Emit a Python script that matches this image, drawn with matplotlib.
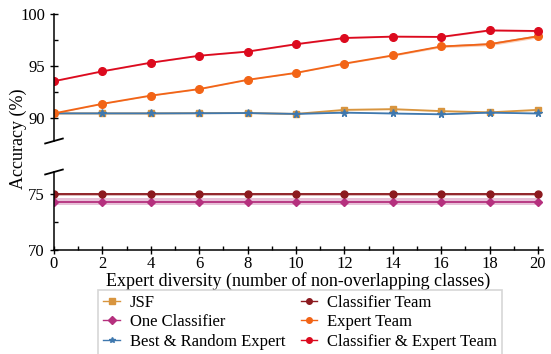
import matplotlib.pyplot as plt
import numpy as np
from matplotlib.ticker import MultipleLocator

plt.rcParams['font.family'] = ['Liberation Serif', 'DejaVu Serif']
plt.rcParams['mathtext.fontset'] = 'stix'

# data
diversity = [0, 2, 4, 6, 8, 10, 12, 14, 16, 18, 20]
jsf = [90.45, 90.45, 90.45, 90.47, 90.48, 90.40, 90.79, 90.86, 90.67, 90.55, 90.79]
one_clf = [74.35] * 11
best_random = [90.45, 90.45, 90.45, 90.46, 90.48, 90.40, 90.52, 90.44, 90.36, 90.52, 90.44]
clf_team = [75.0] * 11
expert_team = [90.45, 91.37, 92.16, 92.79, 93.68, 94.35, 95.24, 96.03, 96.89, 97.11, 97.87]
clf_expert = [93.55, 94.50, 95.33, 96.00, 96.40, 97.11, 97.71, 97.84, 97.81, 98.44, 98.38]

# spread bands
jsf_sd = [0.05, 0.05, 0.05, 0.05, 0.05, 0.05, 0.08, 0.08, 0.06, 0.06, 0.08]
one_clf_sd = [0.3] * 11
best_random_sd = [0.04] * 11
clf_team_sd = [0.15] * 11
expert_team_sd = [0.05, 0.05, 0.05, 0.05, 0.05, 0.05, 0.06, 0.08, 0.12, 0.15, 0.15]
clf_expert_sd = [0.05, 0.05, 0.05, 0.05, 0.05, 0.06, 0.06, 0.06, 0.06, 0.08, 0.08]

series = [
    ('JSF', jsf, jsf_sd, '#d8953f', 's', 4.5),
    ('One Classifier', one_clf, one_clf_sd, '#b5307e', 'D', 4.5),
    ('Best & Random Expert', best_random, best_random_sd, '#3f78ae', '*', 5.5),
    ('Classifier Team', clf_team, clf_team_sd, '#8c1a1f', 'o', 5),
    ('Expert Team', expert_team, expert_team_sd, '#f26416', 'o', 5.5),
    ('Classifier & Expert Team', clf_expert, clf_expert_sd, '#dc0a1e', 'o', 5.5),
]

fig = plt.figure(figsize=(5.51, 3.54), dpi=100)
ax_top = fig.add_axes([0.098, 0.602, 0.887, 0.358])
ax_bot = fig.add_axes([0.098, 0.294, 0.887, 0.220])

handles = []
for ax in (ax_top, ax_bot):
    for name, vals, sd, col, mk, ms in series:
        v = np.array(vals)
        s = np.array(sd)
        ax.fill_between(diversity, v - s, v + s, color=col, alpha=0.3, lw=0)
        ln, = ax.plot(diversity, vals, color=col, marker=mk, ms=ms, lw=1.3, label=name)
        if ax is ax_top:
            handles.append(ln)

# greyish band above expert team near the end
ax_top.fill_between(diversity, np.array(expert_team), np.array(expert_team) + np.array(expert_team_sd),
                    color='#7a5a7a', alpha=0.35, lw=0)

ax_top.set_ylim(87.8, 100)
ax_bot.set_ylim(70, 77)
for ax in (ax_top, ax_bot):
    ax.set_xlim(0, 20.2)
    ax.spines['top'].set_visible(False)
    ax.spines['right'].set_visible(False)
    ax.yaxis.set_major_locator(MultipleLocator(5))
    ax.yaxis.set_minor_locator(MultipleLocator(2.5))
    ax.xaxis.set_major_locator(MultipleLocator(2))
    ax.xaxis.set_minor_locator(MultipleLocator(1))
    ax.tick_params(which='major', direction='inout', length=6, width=1, labelsize=12)
    ax.tick_params(which='minor', direction='in', length=3, width=1)
    ax.spines['left'].set_linewidth(1.1)
    ax.spines['bottom'].set_linewidth(1.1)

ax_top.spines['bottom'].set_visible(False)
ax_top.tick_params(axis='x', which='both', bottom=False, labelbottom=False)
ax_bot.set_yticks([70, 75])
ax_bot.tick_params(axis='x', which='major', pad=1.5)

# break marks on the left spine
kw = dict(transform=fig.transFigure, color='k', lw=1.3, clip_on=False)
x0 = 0.098
for yy in (1 - 141 / 354, 1 - 172 / 354):
    fig.add_artist(plt.Line2D([x0 - 0.016, x0 + 0.016], [yy - 0.007, yy + 0.007], **kw))

ax_bot.set_xlabel('Expert diversity (number of non-overlapping classes)', fontsize=13, labelpad=0)
fig.text(0.034, 0.607, 'Accuracy (%)', rotation=90, ha='center', va='center', fontsize=13)

leg = fig.legend(handles=handles, loc='upper center', bbox_to_anchor=(0.545, 0.182), ncol=2,
                 fontsize=12, frameon=True, fancybox=False, edgecolor='#cccccc',
                 handlelength=1.0, columnspacing=0.9, labelspacing=0.22,
                 borderpad=0.3, handletextpad=0.6, borderaxespad=0)
leg.get_frame().set_linewidth(1.2)
for h in leg.legend_handles:
    h.set_markersize(4)
    h.set_linewidth(1)

fig.savefig('out.png', dpi=100)
